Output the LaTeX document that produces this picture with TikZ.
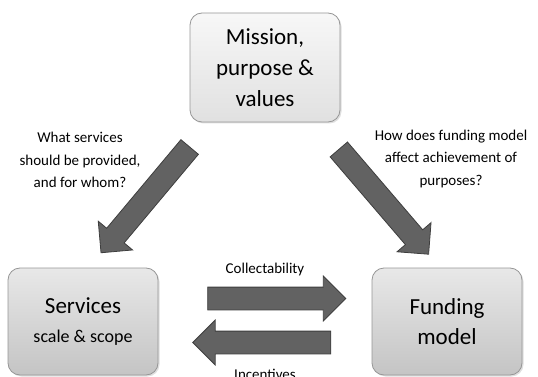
\documentclass[tikz,border=0pt]{standalone}
\usepackage{fontspec}
\setmainfont{Carlito}
\usetikzlibrary{shapes.arrows,shadows}

\definecolor{boxline}{RGB}{150,150,150}
\definecolor{arrowfill}{RGB}{98,98,98}
\definecolor{arrowline}{RGB}{62,62,62}

\begin{document}
\begin{tikzpicture}[x=1pt,y=-1pt,
        box/.style={draw=boxline,line width=0.8pt,rounded corners=12pt,align=center,
          minimum width=150pt,drop shadow={shadow xshift=1.5pt,shadow yshift=-1.5pt,opacity=0.25}},
        top box/.style={box,minimum height=109pt,top color=white!97!black,bottom color=white!88!black,
          font=\fontsize{23}{31}\selectfont},
        low box/.style={box,minimum height=107pt,top color=white!91!black,bottom color=white!77!black},
        big arrow/.style={single arrow,draw=arrowline,fill=arrowfill,line width=0.8pt,
          inner xsep=0pt,inner ysep=11pt,single arrow head extend=11pt,minimum height=138pt,
          sloped,allow upside down},
        question/.style={align=center,font=\fontsize{15}{22.5}\selectfont}]
        \useasboundingbox (0,0) rectangle (538,377);
        % boxes
        \node[top box] (mission) at (265,67.5) {Mission,\\purpose \&\\values};
        \node[low box,font=\fontsize{23}{29}\selectfont] (services) at (83,321.5)
          {Services\\{\fontsize{18}{22}\selectfont scale \& scope}};
        \node[low box,font=\fontsize{23}{30}\selectfont] (funding) at (447,321.5) {Funding\\model};
        % arrow ends
        \coordinate (left tail) at (193,143);
        \coordinate (left tip) at (105,248);
        \coordinate (right tail) at (335,145);
        \coordinate (right tip) at (425,250);
        \coordinate (upper tail) at (202,298.5);
        \coordinate (upper tip) at (340,298.5);
        \coordinate (lower tail) at (337,342.5);
        \coordinate (lower tip) at (198,342.5);
        \path (left tail) -- node[big arrow] {} (left tip);
        \path (right tail) -- node[big arrow] {} (right tip);
        \path (upper tail) -- node[big arrow] {} (upper tip);
        \path (lower tail) -- node[big arrow] {} (lower tip);
        % labels
        \node[question] (what) at (80,160) {What services\\should be provided,\\and for whom?};
        \node[question] (how) at (451,159) {How does funding model\\affect achievement of\\purposes?};
        \node[question] (collect) at (265,269) {Collectability};
        \node[question] (incent) at (265,374) {Incentives};
\end{tikzpicture}
\end{document}
